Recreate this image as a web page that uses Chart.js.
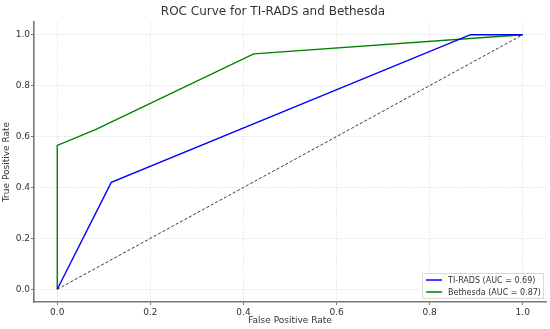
<!DOCTYPE html>
<html><head><meta charset="utf-8">
<script src="https://cdn.jsdelivr.net/npm/chart.js@4/dist/chart.umd.min.js"></script>
<style>html,body{margin:0;padding:0;background:#fff}canvas{display:block}</style>
</head><body>
<canvas id="c" width="550" height="329"></canvas>
<script>
const tiradsFPR = [0, 0.116, 0.888, 1];
const tiradsTPR = [0, 0.42, 1, 1];
const bethesdaFPR = [0, 0, 0.082, 0.422, 1];
const bethesdaTPR = [0, 0.565, 0.627, 0.925, 1];
const chanceFPR = [0, 1];
const chanceTPR = [0, 1];
const tickValues = [0, 0.2, 0.4, 0.6, 0.8, 1.0];
const labels = ['TI-RADS (AUC = 0.69)', 'Bethesda (AUC = 0.87)'];

const pts = (xs, ys) => xs.map((x, i) => ({x, y: ys[i]}));
const FONT = 'DejaVu Sans';
const txt = '#333333';

const legendPlugin = {
  id: 'insideLegend',
  afterDraw(chart) {
    const ctx = chart.ctx, a = chart.chartArea;
    const items = chart.data.datasets.filter(d => d.inLegend);
    ctx.save();
    ctx.font = '8px ' + FONT;
    const w = 121, h = 25;
    const x0 = a.right - w - 3, y0 = a.bottom - h - 4;
    ctx.fillStyle = 'rgba(255,255,255,0.85)';
    ctx.strokeStyle = '#d8d8d8';
    ctx.lineWidth = 1;
    ctx.beginPath(); ctx.rect(x0 + 0.5, y0 + 0.5, w, h); ctx.fill(); ctx.stroke();
    items.forEach((d, i) => {
      const y = y0 + 7 + i * 12;
      ctx.strokeStyle = d.borderColor; ctx.lineWidth = 1.5;
      ctx.beginPath(); ctx.moveTo(x0 + 4, y); ctx.lineTo(x0 + 20, y); ctx.stroke();
      ctx.fillStyle = txt; ctx.textBaseline = 'middle'; ctx.textAlign = 'left';
      ctx.fillText(d.label, x0 + 26, y + 0.5);
    });
    ctx.restore();
  }
};

const axisCommon = (title, isY) => ({
  type: 'linear', min: -0.05, max: 1.05,
  afterBuildTicks: (ax) => { ax.ticks = tickValues.map(v => ({value: v})); },
  afterFit: (ax) => { if (isY) ax.width = 34; else ax.height = 27; },
  grid: { color: '#dddddd', lineWidth: 0.8, drawTicks: true, tickLength: 3, tickColor: '#555555' },
  border: { display: true, color: '#777777', width: 1.6, dash: [1.5, 1.5] },
  ticks: { color: txt, font: { family: FONT, size: 9 }, padding: isY ? 1 : 2, callback: v => v.toFixed(1) },
  title: { display: true, text: title, color: txt, font: { family: FONT, size: 9 }, padding: isY ? { top: 1, bottom: 0 } : { top: 1, bottom: 2.5 } }
});

new Chart(document.getElementById('c'), {
  type: 'scatter',
  data: {
    datasets: [
      { label: labels[0], inLegend: true, data: pts(tiradsFPR, tiradsTPR), showLine: true, borderColor: '#0000ff', borderWidth: 1.4, pointRadius: 0, fill: false, tension: 0 },
      { label: labels[1], inLegend: true, data: pts(bethesdaFPR, bethesdaTPR), showLine: true, borderColor: '#008000', borderWidth: 1.4, pointRadius: 0, fill: false, tension: 0 },
      { label: 'chance', inLegend: false, data: pts(chanceFPR, chanceTPR), showLine: true, borderColor: '#222222', borderWidth: 0.9, borderDash: [3, 2], pointRadius: 0, fill: false }
    ]
  },
  options: {
    responsive: false, animation: false,
    layout: { padding: { left: 0, right: 4, top: 0, bottom: 0 } },
    plugins: {
      legend: { display: false },
      tooltip: { enabled: false },
      title: { display: true, text: 'ROC Curve for TI-RADS and Bethesda', color: txt, font: { family: FONT, size: 12, weight: 'normal' }, padding: { top: 5, bottom: 2.6 } }
    },
    scales: {
      x: axisCommon('False Positive Rate', false),
      y: axisCommon('True Positive Rate', true)
    }
  },
  plugins: [legendPlugin]
});
</script>
</body></html>
